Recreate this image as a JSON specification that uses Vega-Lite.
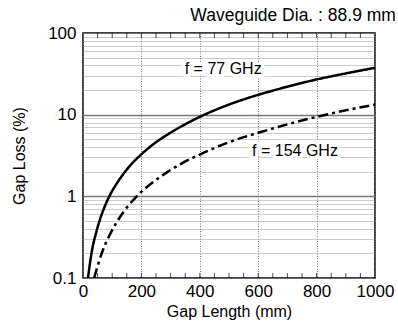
{
  "$schema": "https://vega.github.io/schema/vega-lite/v6.json",
  "autosize": "none",
  "width": 292,
  "height": 245,
  "padding": {"left": 83, "top": 33, "right": 23, "bottom": 44},
  "config": {
    "font": "Liberation Sans",
    "view": {"stroke": "#000", "strokeWidth": 1.5},
    "axis": {"labelFont": "Liberation Sans", "titleFont": "Liberation Sans", "labelColor": "#000", "titleColor": "#000", "titleFontWeight": "normal", "domain": false}
  },
  "title": {"text": "Waveguide Dia. : 88.9 mm", "anchor": "end", "fontSize": 17.5, "fontWeight": "normal", "font": "Liberation Sans", "color": "#000", "offset": 0, "dx": 2},
  "datasets": {
    "curves": [
      {"gap": 17, "loss": 0.1, "f": "77 GHz"},
      {"gap": 30, "loss": 0.21, "f": "77 GHz"},
      {"gap": 45, "loss": 0.36, "f": "77 GHz"},
      {"gap": 58, "loss": 0.52, "f": "77 GHz"},
      {"gap": 75, "loss": 0.76, "f": "77 GHz"},
      {"gap": 92, "loss": 1.03, "f": "77 GHz"},
      {"gap": 127, "loss": 1.65, "f": "77 GHz"},
      {"gap": 160, "loss": 2.35, "f": "77 GHz"},
      {"gap": 201, "loss": 3.3, "f": "77 GHz"},
      {"gap": 250, "loss": 4.6, "f": "77 GHz"},
      {"gap": 286, "loss": 5.6, "f": "77 GHz"},
      {"gap": 340, "loss": 7.3, "f": "77 GHz"},
      {"gap": 400, "loss": 9.4, "f": "77 GHz"},
      {"gap": 500, "loss": 13.3, "f": "77 GHz"},
      {"gap": 600, "loss": 17.5, "f": "77 GHz"},
      {"gap": 700, "loss": 22, "f": "77 GHz"},
      {"gap": 800, "loss": 27, "f": "77 GHz"},
      {"gap": 900, "loss": 32, "f": "77 GHz"},
      {"gap": 1000, "loss": 37.5, "f": "77 GHz"},
      {"gap": 38, "loss": 0.1, "f": "154 GHz"},
      {"gap": 50, "loss": 0.14, "f": "154 GHz"},
      {"gap": 64, "loss": 0.2, "f": "154 GHz"},
      {"gap": 92, "loss": 0.34, "f": "154 GHz"},
      {"gap": 127, "loss": 0.56, "f": "154 GHz"},
      {"gap": 184, "loss": 1.0, "f": "154 GHz"},
      {"gap": 230, "loss": 1.4, "f": "154 GHz"},
      {"gap": 286, "loss": 1.95, "f": "154 GHz"},
      {"gap": 340, "loss": 2.55, "f": "154 GHz"},
      {"gap": 400, "loss": 3.25, "f": "154 GHz"},
      {"gap": 500, "loss": 4.6, "f": "154 GHz"},
      {"gap": 600, "loss": 6.0, "f": "154 GHz"},
      {"gap": 700, "loss": 7.6, "f": "154 GHz"},
      {"gap": 800, "loss": 9.4, "f": "154 GHz"},
      {"gap": 900, "loss": 11.3, "f": "154 GHz"},
      {"gap": 1000, "loss": 13.3, "f": "154 GHz"}
    ],
    "ticks": [
      {"gap": 50}, {"gap": 100}, {"gap": 150}, {"gap": 200}, {"gap": 250}, {"gap": 300}, {"gap": 350}, {"gap": 400}, {"gap": 450},
      {"gap": 500}, {"gap": 550}, {"gap": 600}, {"gap": 650}, {"gap": 700}, {"gap": 750}, {"gap": 800}, {"gap": 850}, {"gap": 900}, {"gap": 950}
    ],
    "labels": [
      {"gap": 480, "loss": 36, "label": "f = 77 GHz"},
      {"gap": 726, "loss": 3.6, "label": "f = 154 GHz"}
    ]
  },
  "layer": [
    {
      "data": {"name": "curves"},
      "mark": {"type": "line", "color": "#000", "strokeWidth": 2.5, "interpolate": "monotone", "clip": true},
      "encoding": {
        "x": {
          "field": "gap", "type": "quantitative",
          "scale": {"domain": [0, 1000], "nice": false},
          "axis": {
            "title": "Gap Length (mm)", "titleFontSize": 16, "titlePadding": 4,
            "values": [0, 200, 400, 600, 800, 1000],
            "format": "d",
            "labelFontSize": 17, "labelPadding": 5, "labelFlush": false, "labelOverlap": false,
            "ticks": false,
            "grid": true,
            "gridColor": "#777", "gridDash": [1, 1.5], "gridWidth": 1
          }
        },
        "y": {
          "field": "loss", "type": "quantitative",
          "scale": {"type": "log", "domain": [0.1, 100], "nice": false},
          "axis": {
            "title": "Gap Loss (%)", "titleFontSize": 16, "titlePadding": 20,
            "values": [0.1, 0.2, 0.3, 0.4, 0.5, 0.6, 0.7, 0.8, 0.9, 1, 2, 3, 4, 5, 6, 7, 8, 9, 10, 20, 30, 40, 50, 60, 70, 80, 90, 100],
            "labelExpr": "(datum.value == 0.1 || datum.value == 1 || datum.value == 10 || datum.value == 100) ? datum.label : ''",
            "labelFontSize": 17, "labelPadding": 7, "labelOverlap": false,
            "ticks": false,
            "grid": true,
            "gridColor": {"condition": {"test": "datum.value == 1 || datum.value == 10", "value": "#777"}, "value": "#999"},
            "gridDash": {"condition": {"test": "datum.value == 1 || datum.value == 10", "value": []}, "value": [1, 1]},
            "gridWidth": {"condition": {"test": "datum.value == 1 || datum.value == 10", "value": 1.5}, "value": 1}
          }
        },
        "strokeDash": {
          "field": "f", "type": "nominal",
          "scale": {"domain": ["77 GHz", "154 GHz"], "range": [[1, 0], [10, 4, 3, 4]]},
          "legend": null
        }
      }
    },
    {
      "data": {"name": "ticks"},
      "mark": {"type": "tick", "orient": "vertical", "size": 10, "thickness": 1, "color": "#000", "clip": true},
      "encoding": {
        "x": {"field": "gap", "type": "quantitative"},
        "y": {"datum": 0.1, "type": "quantitative"}
      }
    },
    {
      "data": {"name": "ticks"},
      "mark": {"type": "tick", "orient": "vertical", "size": 10, "thickness": 1, "color": "#000", "clip": true},
      "encoding": {
        "x": {"field": "gap", "type": "quantitative"},
        "y": {"datum": 100, "type": "quantitative"}
      }
    },
    {
      "data": {"name": "labels"},
      "mark": {"type": "text", "fontSize": 16, "font": "Liberation Sans", "stroke": "#fff", "strokeWidth": 6, "fill": "#fff"},
      "encoding": {
        "x": {"field": "gap", "type": "quantitative"},
        "y": {"field": "loss", "type": "quantitative"},
        "text": {"field": "label"}
      }
    },
    {
      "data": {"name": "labels"},
      "mark": {"type": "text", "fontSize": 16, "font": "Liberation Sans", "color": "#000"},
      "encoding": {
        "x": {"field": "gap", "type": "quantitative"},
        "y": {"field": "loss", "type": "quantitative"},
        "text": {"field": "label"}
      }
    }
  ]
}
